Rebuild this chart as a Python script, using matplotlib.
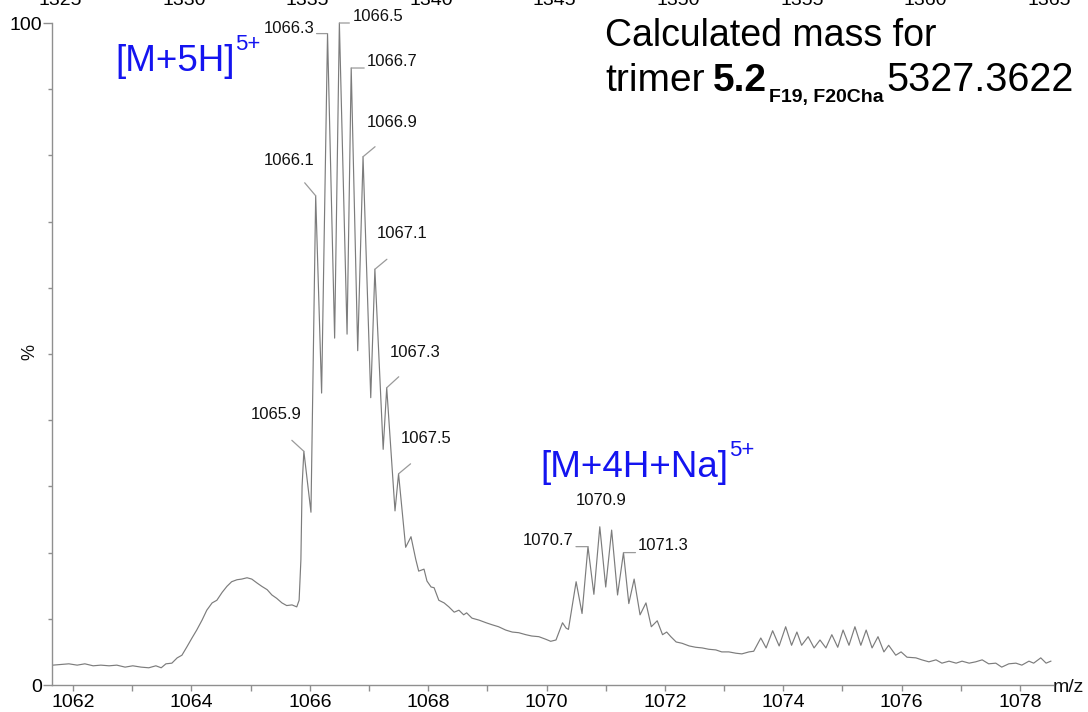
import matplotlib
matplotlib.use("Agg")
import matplotlib.pyplot as plt
from matplotlib.ticker import FixedLocator, NullFormatter

W, H = 1088, 712
FONT = "Liberation Sans"
plt.rcParams["font.family"] = [FONT, "DejaVu Sans"]

# ---- spectrum profile (m/z, relative intensity %) ----
mz = [
    1061.66, 1061.93, 1062.07, 1062.20, 1062.34, 1062.47, 1062.61, 1062.74,
    1062.88, 1063.01, 1063.15, 1063.28, 1063.40, 1063.49, 1063.57, 1063.67,
    1063.76, 1063.84, 1063.92, 1064.01, 1064.09, 1064.18, 1064.26, 1064.35,
    1064.43, 1064.52, 1064.60, 1064.68, 1064.77, 1064.85, 1064.94, 1065.02,
    1065.11, 1065.19, 1065.28, 1065.36, 1065.44, 1065.53, 1065.61, 1065.70,
    1065.78, 1065.82, 1065.85, 1065.87, 1065.90, 1066.02, 1066.10, 1066.20,
    1066.30, 1066.42, 1066.50, 1066.63, 1066.70, 1066.81, 1066.90, 1067.03,
    1067.10, 1067.24, 1067.30, 1067.44, 1067.50, 1067.62, 1067.71, 1067.79,
    1067.84, 1067.93, 1067.98, 1068.05, 1068.10, 1068.18, 1068.27, 1068.35,
    1068.44, 1068.52, 1068.60, 1068.65, 1068.74, 1068.86, 1068.98, 1069.08,
    1069.19, 1069.31, 1069.42, 1069.53, 1069.65, 1069.75, 1069.87, 1069.99,
    1070.07, 1070.16, 1070.21, 1070.27, 1070.33, 1070.37, 1070.50, 1070.60,
    1070.70, 1070.80, 1070.90, 1071.00, 1071.10, 1071.20, 1071.30, 1071.39,
    1071.48, 1071.58, 1071.68, 1071.77, 1071.87, 1071.96, 1072.03, 1072.10,
    1072.19, 1072.29, 1072.41, 1072.52, 1072.63, 1072.74, 1072.86, 1072.96,
    1073.08, 1073.20, 1073.30, 1073.42, 1073.50, 1073.62, 1073.71, 1073.82,
    1073.93, 1074.04, 1074.14, 1074.23, 1074.31, 1074.42, 1074.52, 1074.62,
    1074.72, 1074.82, 1074.92, 1075.01, 1075.11, 1075.21, 1075.31, 1075.40,
    1075.50, 1075.60, 1075.70, 1075.78, 1075.90, 1075.99, 1076.09, 1076.24,
    1076.34, 1076.46, 1076.58, 1076.68, 1076.80, 1076.92, 1077.02, 1077.14,
    1077.25, 1077.36, 1077.47, 1077.59, 1077.69, 1077.81, 1077.93, 1078.03,
    1078.15, 1078.23, 1078.35, 1078.44, 1078.52,
]
intensity = [
    3.0, 3.2, 3.0, 3.2, 2.9, 3.0, 2.9, 3.0,
    2.7, 2.9, 2.7, 2.6, 2.9, 2.6, 3.2, 3.3,
    4.1, 4.5, 5.7, 7.1, 8.3, 9.8, 11.3, 12.4,
    12.8, 14.0, 14.9, 15.6, 15.9, 16.0, 16.2, 16.0,
    15.4, 14.9, 14.4, 13.6, 13.1, 12.4, 12.0, 12.1,
    11.8, 12.8, 18.9, 30.0, 35.3, 26.1, 73.9, 44.1,
    98.4, 52.4, 100.0, 53.0, 93.2, 50.5, 79.8, 43.4,
    62.8, 35.6, 44.9, 26.3, 31.9, 20.8, 22.4, 19.0,
    17.2, 17.5, 15.7, 14.8, 14.7, 12.8, 12.4, 11.8,
    11.0, 11.3, 10.6, 10.9, 10.1, 9.8, 9.4, 9.1,
    8.8, 8.3, 8.0, 7.9, 7.6, 7.4, 7.3, 6.9,
    6.6, 6.8, 8.0, 9.4, 8.6, 8.4, 15.6, 10.8,
    20.9, 13.7, 23.9, 14.8, 23.4, 13.6, 20.0, 12.3,
    16.0, 10.6, 12.4, 8.8, 9.7, 7.6, 8.0, 7.3,
    6.5, 6.3, 5.9, 5.7, 5.6, 5.4, 5.3, 5.0,
    5.0, 4.8, 4.7, 5.0, 5.1, 7.1, 5.6, 8.2,
    5.9, 8.8, 6.0, 8.0, 6.0, 7.3, 5.6, 6.8,
    5.6, 7.6, 5.7, 8.3, 6.0, 8.8, 6.0, 8.3,
    5.6, 7.3, 5.0, 6.0, 4.5, 5.0, 4.2, 4.1,
    3.8, 3.5, 3.8, 3.3, 3.6, 3.3, 3.6, 3.3,
    3.5, 3.8, 3.2, 3.3, 2.7, 3.2, 3.3, 3.0,
    3.6, 3.3, 4.1, 3.3, 3.6,
]

# labelled peak centroids
peak_labels = ["1065.9", "1066.1", "1066.3", "1066.5", "1066.7", "1066.9",
               "1067.1", "1067.3", "1067.5", "1070.7", "1070.9", "1071.3"]

x_major = [1062, 1064, 1066, 1068, 1070, 1072, 1074, 1076, 1078]
x_minor = [1063, 1065, 1067, 1069, 1071, 1073, 1075, 1077]
y_major = [0, 100]
y_minor = [10, 20, 30, 40, 50, 60, 70, 80, 90]
top_ticks = [1325, 1330, 1335, 1340, 1345, 1350, 1355, 1360, 1365]

TRACE = "#7c7c7c"
AXIS = "#8f8f8f"
BLUE = "#1414f0"
PX = 0.72  # points per pixel at 100 dpi

fig = plt.figure(figsize=(W / 100, H / 100), dpi=100)
fig.patch.set_facecolor("white")

x0, x1 = 1061.645, 1078.55
px_per_unit = 59.19
ax_left, ax_bottom, ax_top = 52, 685, 23
ax_w = (x1 - x0) * px_per_unit
ax = fig.add_axes([ax_left / W, (H - ax_bottom) / H, ax_w / W, (ax_bottom - ax_top) / H])
ax.set_xlim(x0, x1)
ax.set_ylim(0, 100)

ax.plot(mz, intensity, color=TRACE, lw=0.85, clip_on=False)

for side in ("top", "right"):
    ax.spines[side].set_visible(False)
for side in ("left", "bottom"):
    ax.spines[side].set_color(AXIS)
    ax.spines[side].set_linewidth(1.0)

ax.xaxis.set_major_locator(FixedLocator(x_major))
ax.xaxis.set_minor_locator(FixedLocator(x_minor))
ax.yaxis.set_major_locator(FixedLocator(y_major))
ax.yaxis.set_minor_locator(FixedLocator(y_minor))
ax.xaxis.set_minor_formatter(NullFormatter())
ax.yaxis.set_minor_formatter(NullFormatter())
ax.set_xticklabels([str(v) for v in x_major])
ax.set_yticklabels([str(v) for v in y_major])
ax.tick_params(axis="x", which="major", length=6 * PX, width=1, color=AXIS,
               labelsize=14, pad=2.5)
ax.tick_params(axis="x", which="minor", length=6 * PX, width=1, color=AXIS)
ax.tick_params(axis="y", which="major", length=9 * PX, width=1, color=AXIS,
               labelsize=14, pad=1 * PX)
ax.tick_params(axis="y", which="minor", length=4 * PX, width=1, color=AXIS)

# second scale along the top edge
def to_top(v):
    return 1325.508 + (v - 1062.0) * 2.3954

def from_top(v):
    return 1062.0 + (v - 1325.508) / 2.3954

sec = ax.secondary_xaxis("top", functions=(to_top, from_top))
sec.set_xticks(top_ticks)
sec.set_xticklabels([str(v) for v in top_ticks])
sec.tick_params(axis="x", length=0, labelsize=14, pad=10)
for s in sec.spines.values():
    s.set_visible(False)

# peak annotations: (leader end offset, text offset) in pixels from the apex
label_geom = {
    "1065.9": ((-12, 11), (-27.5, 32)),
    "1066.1": ((-11, 13), (-27, 31)),
    "1066.3": ((-11, 0), (-38.5, 1)),
    "1066.5": ((10, 0), (38.5, 2)),
    "1066.7": ((13, 0), (40.5, 2)),
    "1066.9": ((12, 10), (29, 30)),
    "1067.1": ((12, 10), (27.5, 31)),
    "1067.3": ((12, 11), (28.5, 31)),
    "1067.5": ((12, 10), (27.5, 31)),
    "1070.7": ((-12, 0), (-39.5, 2)),
    "1070.9": (None, (1, 22)),
    "1071.3": ((12, 0), (39.5, 3)),
}
for lab in peak_labels:
    xv = float(lab)
    yv = intensity[mz.index(xv)]
    leader, toff = label_geom[lab]
    if leader is not None:
        ax.annotate("", xy=(xv, yv), xytext=leader, textcoords="offset pixels",
                    arrowprops=dict(arrowstyle="-", color="#9a9a9a", lw=0.9,
                                    shrinkA=0, shrinkB=0),
                    annotation_clip=False)
    ax.annotate(lab, xy=(xv, yv), xytext=toff, textcoords="offset pixels",
                ha="center", va="baseline", fontsize=12, color="#111111",
                annotation_clip=False)

# axis captions
fig.text(30 / W, 1 - 352 / H, "%", rotation=90, ha="center", va="center",
         fontsize=13, color="#111111")
fig.text(1053 / W, 1 - 692 / H, "m/z", ha="left", va="baseline",
         fontsize=14, color="#111111")

renderer = fig.canvas.get_renderer()


def text_run(x_px, y_px, parts):
    """Lay out text pieces left to right on a common baseline (pixel coords)."""
    x = x_px
    for s, size, weight, dy, color, gap in parts:
        t = fig.text(x / W, 1 - (y_px + dy) / H, s, fontsize=size,
                     fontweight=weight, color=color, ha="left", va="baseline")
        x += t.get_window_extent(renderer).width + gap


text_run(115, 71, [("[M+5H]", 26.5, "normal", 0, BLUE, 1),
                   ("5+", 16, "normal", -21, BLUE, 0)])
text_run(540, 477, [("[M+4H+Na]", 26.5, "normal", 0, BLUE, 1),
                    ("5+", 16, "normal", -21, BLUE, 0)])
text_run(605, 46, [("Calculated mass for", 27, "normal", 0, "black", 0)])
text_run(605, 91, [("trimer", 28, "normal", 0, "black", 8),
                   ("5.2", 28, "bold", 0, "black", 2),
                   ("F19, F20Cha", 14, "bold", 11, "black", 3),
                   ("5327.3622", 28.5, "normal", 0, "black", 0)])

fig.savefig("out.png", dpi=100, facecolor="white")
